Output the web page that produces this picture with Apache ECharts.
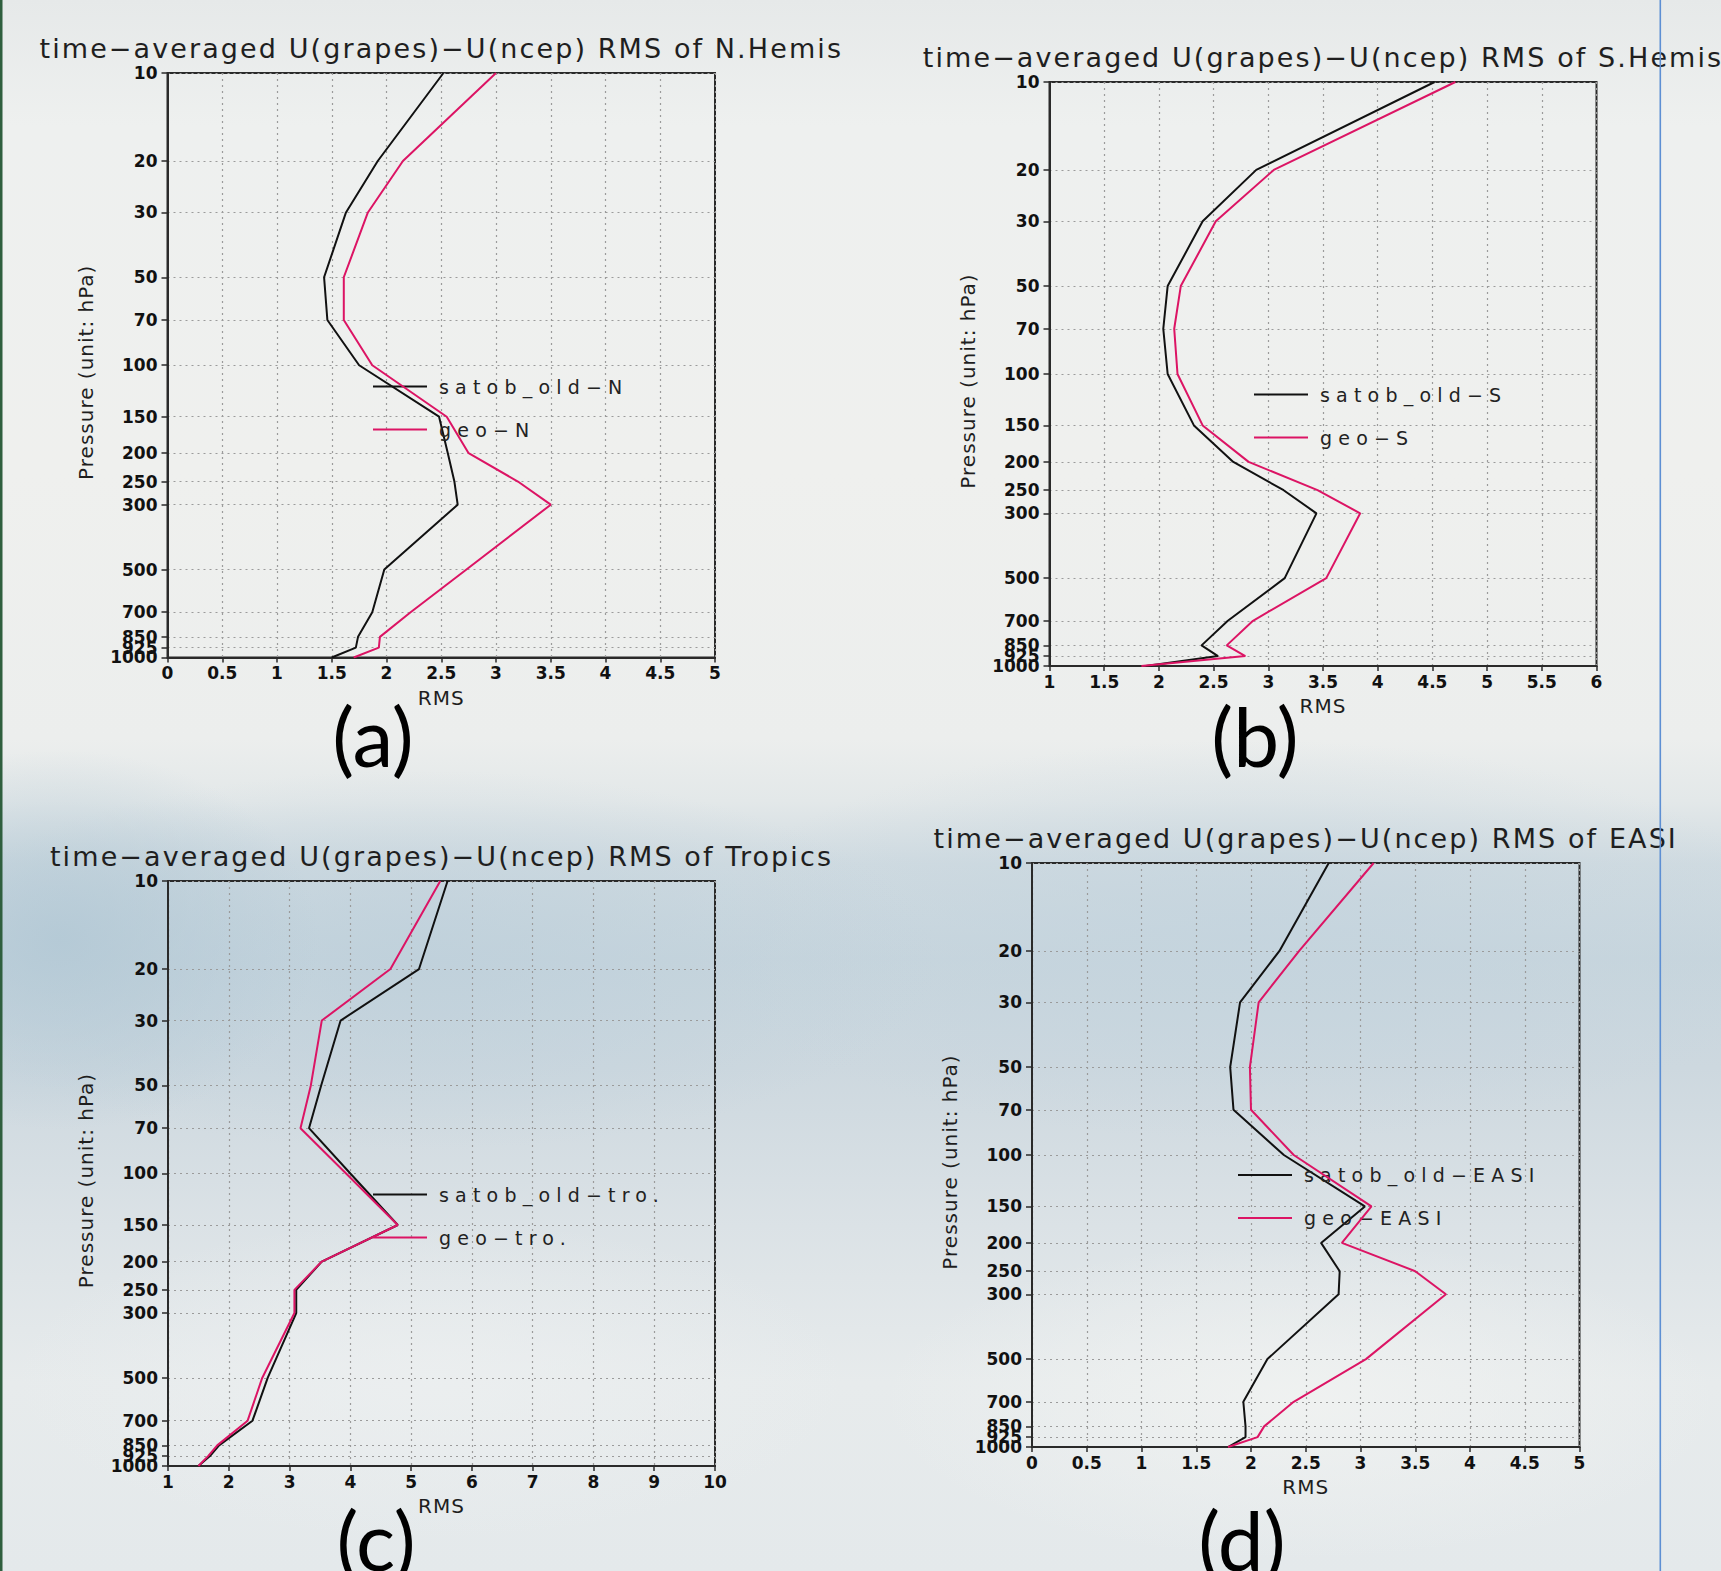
<!DOCTYPE html>
<html>
<head>
<meta charset="utf-8">
<title>time-averaged U RMS profiles</title>
<script src="https://cdn.jsdelivr.net/npm/echarts@6.0.0/dist/echarts.min.js"></script>
<style>
  html, body { margin: 0; padding: 0; }
  body {
    width: 1721px; height: 1571px; overflow: hidden;
    background:
      radial-gradient(ellipse 260px 190px at 60px 940px, rgba(178,200,213,0.85), rgba(178,200,213,0) 100%),
      radial-gradient(ellipse 520px 190px at 420px 960px, rgba(190,208,219,0.8), rgba(190,208,219,0) 100%),
      radial-gradient(ellipse 560px 200px at 1250px 940px, rgba(196,212,222,0.8), rgba(196,212,222,0) 100%),
      radial-gradient(ellipse 420px 160px at 1300px 1400px, rgba(240,242,241,0.9), rgba(240,242,241,0) 100%),
      radial-gradient(ellipse 420px 160px at 430px 1380px, rgba(236,239,240,0.8), rgba(236,239,240,0) 100%),
      linear-gradient(to bottom, #e6e9e9 0%, #eef0ef 8%, #eff0ee 30%, #eceeed 47%, #e3e8e9 51%, #d0dbe1 55%, #c7d5dd 61%, #cdd8df 68%, #dbe2e6 78%, #e7ebec 88%, #e4e9eb 100%);
  }
  #main { width: 1721px; height: 1571px; }
  /* the GrADS stroke font is very wide: open up titles, legend and axis names */
  #main text[style*="27px"] { letter-spacing: 2.1px; }
  #main text[style*="19px"] { letter-spacing: 6.2px; }
  #main text[style*="20px"] { letter-spacing: 1px; }
</style>
</head>
<body>
<div id="main"></div>
<script>
// pressure levels (hPa), bottom to top, in the order the profiles are drawn
const levels = [1000, 925, 850, 700, 500, 300, 250, 200, 150, 100, 70, 50, 30, 20, 10];
// labelled pressure levels on the y axis
const tickLevels = [10, 20, 30, 50, 70, 100, 150, 200, 250, 300, 500, 700, 850, 925, 1000];
// 925 sits between 850 and 1000; echarts drops it as an overlap, so it goes on its own axis
const crowdedLevels = [925];

// RMS of U(grapes)-U(ncep), one value per level above
const satobN = [1.50, 1.72, 1.74, 1.87, 1.98, 2.65, 2.62, 2.56, 2.48, 1.75, 1.46, 1.43, 1.63, 1.92, 2.52];
const geoN = [1.70, 1.93, 1.94, 2.22, 2.73, 3.50, 3.20, 2.75, 2.55, 1.87, 1.61, 1.61, 1.83, 2.15, 3.00];

const satobS = [1.88, 2.54, 2.39, 2.63, 3.15, 3.44, 3.14, 2.68, 2.32, 2.08, 2.04, 2.08, 2.40, 2.89, 4.52];
const geoS = [1.84, 2.79, 2.62, 2.86, 3.53, 3.84, 3.45, 2.82, 2.40, 2.17, 2.14, 2.20, 2.52, 3.05, 4.71];

const satobTro = [1.50, 1.69, 1.84, 2.39, 2.64, 3.11, 3.11, 3.53, 4.78, 4.00, 3.32, 3.52, 3.84, 5.13, 5.60];
const geoTro = [1.50, 1.66, 1.81, 2.31, 2.55, 3.08, 3.08, 3.53, 4.78, 3.93, 3.18, 3.35, 3.53, 4.66, 5.48];

const satobEasi = [1.79, 1.95, 1.95, 1.93, 2.15, 2.80, 2.81, 2.64, 3.04, 2.30, 1.84, 1.81, 1.90, 2.26, 2.71];
const geoEasi = [1.79, 2.06, 2.12, 2.39, 3.05, 3.78, 3.50, 2.83, 3.10, 2.39, 2.00, 1.99, 2.07, 2.44, 3.12];

// titles, legend names and x ranges of the four panels
const titles = [
    'time−averaged U(grapes)−U(ncep) RMS of N.Hemis',
    'time−averaged U(grapes)−U(ncep) RMS of S.Hemis',
    'time−averaged U(grapes)−U(ncep) RMS of Tropics',
    'time−averaged U(grapes)−U(ncep) RMS of EASI'
];
const seriesNames = [
    ['satob_old−N', 'geo−N'],
    ['satob_old−S', 'geo−S'],
    ['satob_old−tro.', 'geo−tro.'],
    ['satob_old−EASI', 'geo−EASI']
];
const seriesValues = [[satobN, geoN], [satobS, geoS], [satobTro, geoTro], [satobEasi, geoEasi]];
const xRanges = [[0, 5, 0.5], [1, 6, 0.5], [1, 10, 1], [0, 5, 0.5]];
const tags = ['(a)', '(b)', '(c)', '(d)'];

// layout (pixels): plot box, legend corner, panel tag centre
const plotBoxes = [[167.5, 73, 547.5, 584.5], [1049.5, 82, 547, 584], [168, 881, 547, 585], [1032, 863, 547.5, 584]];
const legendCorners = [[373, 377], [1254, 385], [373, 1185], [1238, 1165.5]];
const tagCentres = [[373, 735], [1255, 735], [376, 1539], [1242, 1539]];

const FONT = 'DejaVu Sans';
const FRAME = '#2a2a2a';
const BLACK = '#111111';
const RED = '#dc1464';

const chart = echarts.init(document.getElementById('main'), null, { renderer: 'svg' });

const grids = [], xAxes = [], yAxes = [], extraYAxes = [], series = [], titleList = [], legends = [], graphics = [];

const tickLabelStyle = { fontFamily: FONT, fontWeight: 'bold', fontSize: 17, color: '#111' };
const mainLabelLevels = tickLevels.filter(p => crowdedLevels.indexOf(p) < 0);

plotBoxes.forEach((box, i) => {
    const [left, top, width, height] = box;
    grids.push({
        left: left, top: top, width: width, height: height,
        show: true, borderColor: FRAME, borderWidth: 2,
        backgroundColor: 'transparent',
        containLabel: false, outerBoundsMode: 'none'
    });

    xAxes.push({
        gridIndex: i,
        type: 'value',
        min: xRanges[i][0], max: xRanges[i][1], interval: xRanges[i][2],
        name: 'RMS', nameLocation: 'middle', nameGap: 30,
        nameTextStyle: { fontFamily: FONT, fontSize: 20, color: '#1e1e1e' },
        axisLine: { show: true, onZero: false, lineStyle: { color: FRAME, width: 2 } },
        axisTick: { show: true, inside: false, length: 5, lineStyle: { color: FRAME, width: 1.5 } },
        axisLabel: Object.assign({ margin: 7, showMinLabel: true, showMaxLabel: true }, tickLabelStyle),
        splitLine: { show: true, lineStyle: { color: '#9b9b9b', width: 1.2, type: [2, 4] } }
    });

    // log pressure axis; max a hair above 1000 so the 1000 hPa label survives log rounding
    const logAxis = {
        gridIndex: i, position: 'left',
        type: 'log', logBase: 10, min: 10, max: 1000.01, inverse: true
    };

    yAxes.push(Object.assign({}, logAxis, {
        name: 'Pressure (unit: hPa)', nameLocation: 'middle', nameGap: 72, nameRotate: 90,
        nameTextStyle: { fontFamily: FONT, fontSize: 20, color: '#1e1e1e', padding: [0, 14, 0, 0] },
        axisLine: { show: true, lineStyle: { color: FRAME, width: 2 } },
        axisTick: { show: true, inside: false, length: 6, customValues: tickLevels, lineStyle: { color: FRAME, width: 1.5 } },
        axisLabel: Object.assign({
            margin: 10, customValues: mainLabelLevels, showMinLabel: true, showMaxLabel: true, lineHeight: 7,
            formatter: v => String(Math.round(v))
        }, tickLabelStyle),
        minorTick: { show: false },
        splitLine: { show: true, lineStyle: { color: '#9b9b9b', width: 1.2, type: [2, 4] } }
    }));

    extraYAxes.push(Object.assign({}, logAxis, {
        axisLine: { show: false },
        axisTick: { show: false },
        splitLine: { show: false },
        axisLabel: Object.assign({
            margin: 10, customValues: crowdedLevels, lineHeight: 7,
            formatter: v => String(Math.round(v))
        }, tickLabelStyle)
    }));

    const colors = [BLACK, RED];
    seriesNames[i].forEach((name, k) => {
        series.push({
            type: 'line',
            name: name,
            xAxisIndex: i, yAxisIndex: i,
            data: seriesValues[i][k].map((v, j) => [v, levels[j]]),
            symbol: 'none',
            color: colors[k],
            lineStyle: { color: colors[k], width: 2 },
            z: 3 + k
        });
    });

    titleList.push({
        text: titles[i],
        left: left + width / 2, top: top - 38,
        textAlign: 'center', padding: 0,
        textStyle: { fontFamily: FONT, fontSize: 27, fontWeight: 'normal', color: '#1f1f1f' }
    });

    legends.push({
        orient: 'vertical',
        left: legendCorners[i][0], top: legendCorners[i][1],
        padding: 0,
        icon: 'rect',
        itemWidth: 54, itemHeight: 2, itemGap: 24,
        selectedMode: false,
        data: seriesNames[i],
        textStyle: { fontFamily: FONT, fontSize: 19, color: '#222', padding: [0, 0, 0, 7] }
    });

    graphics.push({
        type: 'text',
        x: tagCentres[i][0], y: tagCentres[i][1],
        style: { text: tags[i], fontFamily: 'Lato', fontSize: 82, fill: '#000', align: 'center', verticalAlign: 'middle' },
        z: 50
    });
});

// window edges captured in the screenshot
graphics.push({ type: 'rect', shape: { x: 0, y: 0, width: 2.5, height: 1571 }, style: { fill: '#2f5f3e' }, z: 100 });
graphics.push({ type: 'rect', shape: { x: 1659.5, y: 0, width: 1.6, height: 1571 }, style: { fill: '#5d8fd3' }, z: 100 });

chart.setOption({
    backgroundColor: 'transparent',
    animation: false,
    textStyle: { fontFamily: FONT },
    title: titleList,
    legend: legends,
    grid: grids,
    xAxis: xAxes,
    yAxis: yAxes.concat(extraYAxes),
    series: series,
    graphic: graphics
});
</script>
</body>
</html>
